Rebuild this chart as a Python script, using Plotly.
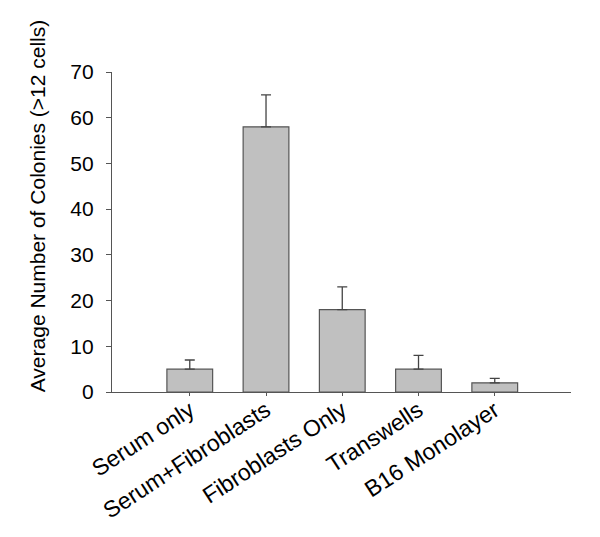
import plotly.graph_objects as go

categories = ["Serum only", "Serum+Fibroblasts", "Fibroblasts Only", "Transwells", "B16 Monolayer"]
values = [5, 58, 18, 5, 2]
errors = [2, 7, 5, 3, 1]
y_ticks = [0, 10, 20, 30, 40, 50, 60, 70]
y_title = "Average Number of Colonies (>12 cells)"

fig = go.Figure()
fig.add_trace(go.Bar(
    x=list(range(len(categories))),
    y=values,
    width=0.6,
    marker=dict(color="#c0c0c0", line=dict(color="#555555", width=1.2)),
    error_y=dict(type="data", array=errors, symmetric=False, arrayminus=[0]*len(errors),
                 color="#444444", thickness=1.3, width=5),
))

fig.update_layout(
    width=592, height=529,
    margin=dict(l=104, r=29, t=64, b=145),
    paper_bgcolor="white", plot_bgcolor="white",
    font=dict(family="Liberation Sans, Arial, sans-serif", color="black", size=21),
    showlegend=False,
)
fig.update_xaxes(
    range=[-1.02, 5], tickmode="array", tickvals=list(range(len(categories))), ticktext=categories,
    tickangle=-33, showline=True, linecolor="#555555", linewidth=1.2,
    ticks="outside", ticklen=3, tickcolor="#555555", showgrid=False, zeroline=False,
    tickfont=dict(size=23), automargin=False, ticklabelstandoff=-8,
)
fig.update_yaxes(
    range=[0, 70], tickvals=y_ticks, showline=True, linecolor="#555555", linewidth=1.2,
    ticks="outside", ticklen=5, tickcolor="#555555", showgrid=False, zeroline=False,
    tickfont=dict(size=21), automargin=False, ticklabelstandoff=8,
)
fig.add_annotation(
    text=y_title, textangle=-90, xref="paper", yref="paper",
    x=-0.163, y=0.581, xanchor="center", yanchor="middle", showarrow=False,
    font=dict(size=21, color="black"),
)

fig.write_html("out.html")
